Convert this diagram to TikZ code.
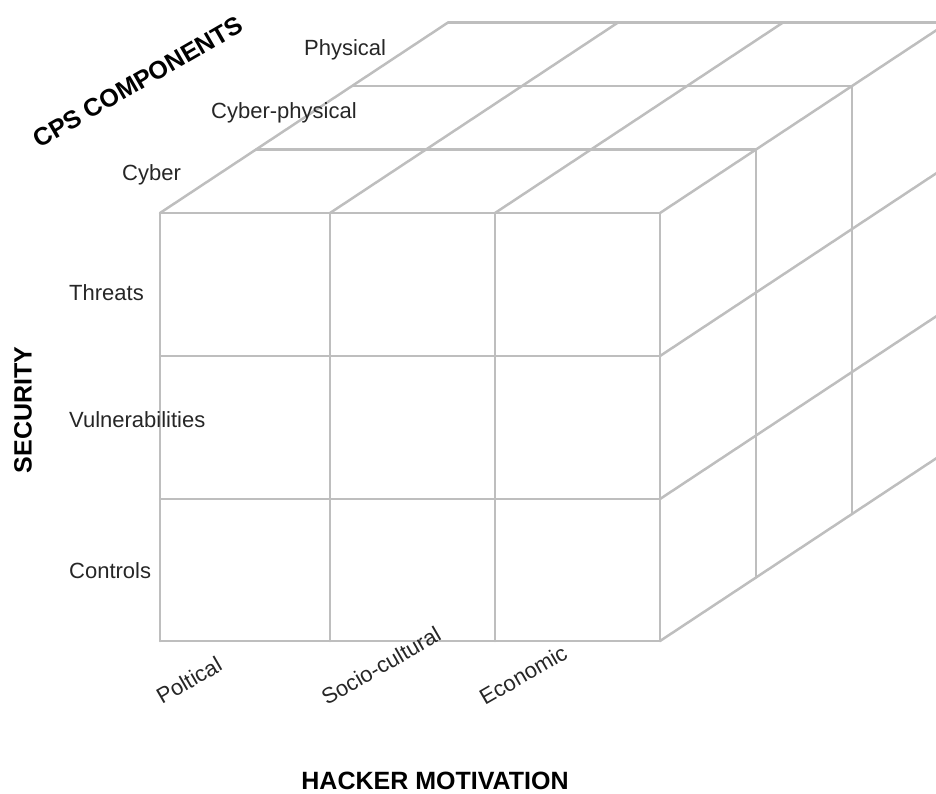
\documentclass[tikz,border=0pt]{standalone}
\usepackage{fontspec}
\setmainfont{Liberation Sans}
\definecolor{gridgray}{HTML}{BEBEBE}
\definecolor{labelgray}{HTML}{262626}
\tikzset{
  grid line/.style={draw=gridgray, line width=2.5pt, line cap=round},
  axis label/.style={font=\fontsize{25}{30}\selectfont\bfseries, text=black, inner sep=0pt},
  item label/.style={font=\fontsize{22}{26}\selectfont, text=labelgray, inner sep=0pt, anchor=base west}
}
\begin{document}
\begin{tikzpicture}[x=1pt,y=-1pt]
\useasboundingbox (0,0) rectangle (936,793);
\begin{scope}
\clip (0,0) rectangle (936,793);
% front face
\foreach \c in {160,330,495,660}
  \draw[grid line] (\c,213) -- (\c,641);
\foreach \r in {213,356,499,641}
  \draw[grid line] (160,\r) -- (660,\r);
% top face
\foreach \c in {160,330,495,660}
  \draw[grid line] (\c,213) -- ++(288,-190.5);
\foreach \k in {1,2,3}
  \draw[grid line] ({160+96*\k},{213-63.5*\k}) -- ++(500,0);
% right face
\foreach \k in {1,2,3}
  \draw[grid line] ({660+96*\k},{213-63.5*\k}) -- ++(0,428);
\foreach \r in {356,499,641}
  \draw[grid line] (660,\r) -- ++(288,-190.5);
\end{scope}
\node[item label] (physical) at (304,55) {Physical};
\node[item label] (cyberphys) at (211,118) {Cyber-physical};
\node[item label] (cyber) at (122,180) {Cyber};
\node[item label] (threats) at (69,300) {Threats};
\node[item label] (vuln) at (69,427) {Vulnerabilities};
\node[item label] (controls) at (69,578) {Controls};
\node[item label, rotate=30] (political) at (162,705) {Poltical};
\node[item label, rotate=30] (sociocult) at (327,706) {Socio-cultural};
\node[item label, rotate=30] (economic) at (485,706) {Economic};
\node[axis label, rotate=90] (security) at (23,410) {SECURITY};
\node[axis label] (hacker) at (435,781) {HACKER MOTIVATION};
\node[axis label, rotate=30] (cps) at (138,82) {CPS COMPONENTS};
\end{tikzpicture}
\end{document}
